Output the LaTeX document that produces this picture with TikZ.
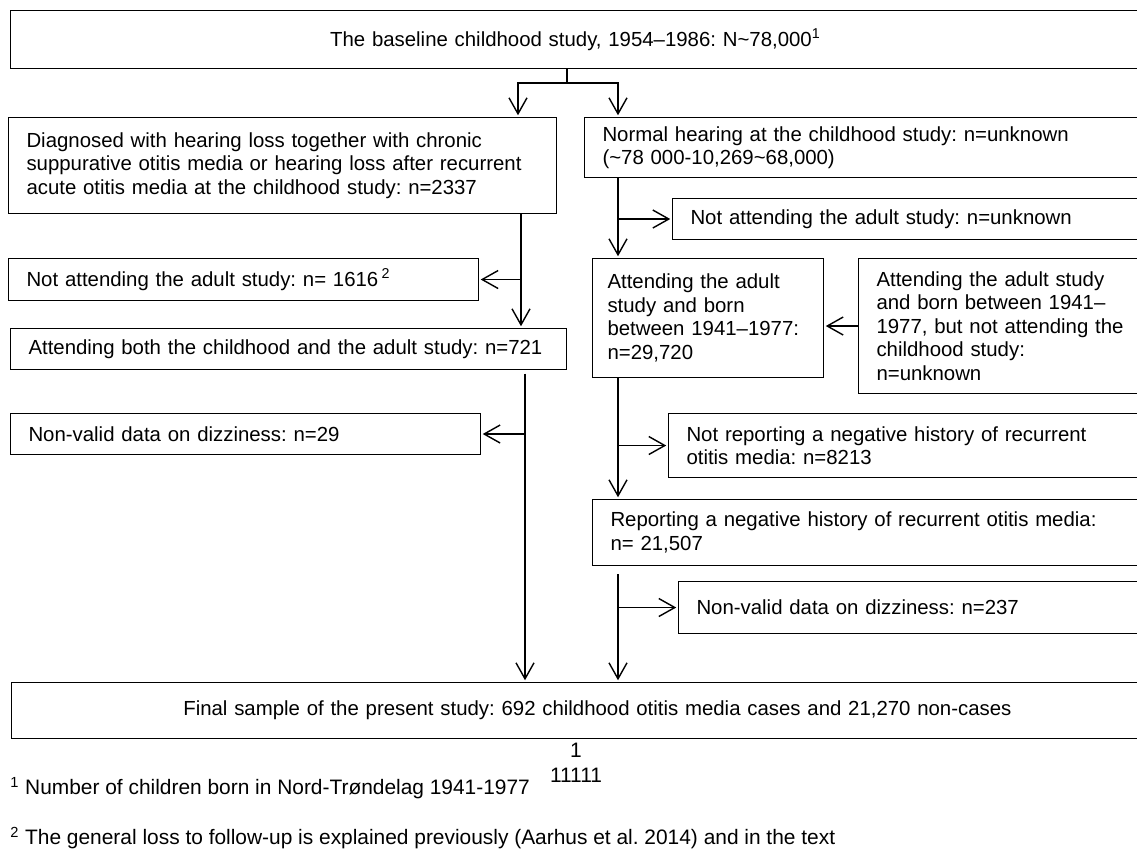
\documentclass[tikz,border=0pt]{standalone}
\usepackage{fontspec}
\setmainfont{Liberation Sans}
\usetikzlibrary{arrows.meta}
\frenchspacing

\begin{document}
\begin{tikzpicture}[x=0.02cm,y=-0.02cm,
  >={Straight Barb[length=3.2mm,width=3.6mm]},
  box/.style={draw,line width=0.6pt,anchor=north west,align=left,inner xsep=0.36cm,inner ysep=0pt,font=\fontsize{11.6pt}{13.4pt}\selectfont},
  flow/.style={->,line width=0.8pt,shorten >=1pt},
  note/.style={inner sep=0pt,font=\fontsize{11.9pt}{13.4pt}\selectfont}]
\useasboundingbox (0,0) rectangle (1137,849);
\node[box,align=center,text width=21.88cm,minimum height=1.16cm] (base) at (10,10) {The baseline childhood study, 1954--1986: N\textasciitilde78,000\textsuperscript{1}};
\node[box,text width=10.24cm,minimum height=1.92cm] (diag) at (8,117) {Diagnosed with hearing loss together with chronic\\suppurative otitis media or hearing loss after recurrent\\acute otitis media at the childhood study: n=2337};
\node[box,text width=8.68cm,minimum height=0.84cm] (lost) at (8,258) {Not attending the adult study: n= 1616\,\textsuperscript{2}};
\node[box,text width=10.4cm,minimum height=0.82cm] (both) at (10,328) {Attending both the childhood and the adult study: n=721};
\node[box,text width=8.68cm,minimum height=0.82cm] (badl) at (10,413) {Non-valid data on dizziness: n=29};
\node[box,text width=10.8cm,minimum height=1.2cm] (normal) at (584,117) {Normal hearing at the childhood study: n=unknown\\(\textasciitilde78 000-10,269\textasciitilde68,000)};
\node[box,text width=9.04cm,minimum height=0.82cm] (absent) at (672,198) {Not attending the adult study: n=unknown};
\node[box,inner xsep=0.3cm,text width=4.02cm,minimum height=2.38cm] (adult) at (592,258) {Attending the adult\\study and born\\between 1941--1977:\\n=29,720};
\node[box,text width=5.32cm,minimum height=2.7cm] (nochild) at (858,258) {Attending the adult study\\and born between 1941--\\1977, but not attending the\\childhood study:\\n=unknown};
\node[box,text width=9.12cm,minimum height=1.28cm] (notneg) at (668,413) {Not reporting a negative history of recurrent\\otitis media: n=8213};
\node[box,text width=10.64cm,minimum height=1.32cm] (neg) at (592,499) {Reporting a negative history of recurrent otitis media:\\n= 21,507};
\node[box,text width=8.92cm,minimum height=1.04cm] (badr) at (678,581) {Non-valid data on dizziness: n=237};
\node[box,align=center,text width=22.72cm,minimum height=1.12cm] (final) at (11,682) {Final sample of the present study: 692 childhood otitis media cases and 21,270 non-cases};
\node[note] (one) at (576,750) {1};
\node[note] (ones) at (576,775) {11111};
\node[note,anchor=west] (fnone) at (10,788) {\textsuperscript{1} Number of children born in Nord-Trøndelag 1941-1977};
\node[note,anchor=west] (fntwo) at (10,838) {\textsuperscript{2} The general loss to follow-up is explained previously (Aarhus et al. 2014) and in the text};
\coordinate (split) at (567,83);
\coordinate (lhead) at (518,83);
\coordinate (rhead) at (618,83);
\coordinate (lcol) at (521,0);
\coordinate (lcolb) at (525,0);
\coordinate (rcol) at (618,0);
\draw[line width=0.8pt] (base.south -| split) -- (split);
\draw[flow] (split) -- (lhead) -- (lhead |- diag.north);
\draw[flow] (split) -- (rhead) -- (rhead |- normal.north);
\draw[flow] (lcol |- diag.south) -- (lcol |- both.north);
\draw[flow] (lcol |- lost.east) -- (lost.east);
\draw[flow,shorten <=2pt] (lcolb |- both.south) -- (lcolb |- final.north);
\draw[flow] (lcolb |- badl.east) -- (badl.east);
\draw[flow] (rcol |- normal.south) -- (rcol |- adult.north);
\draw[flow] (rcol |- absent.west) -- (absent.west);
\draw[flow] (nochild.west) -- (adult.east |- nochild.west);
\draw[flow] (rcol |- adult.south) -- (rcol |- neg.north);
\draw[flow] (rcol |- notneg.west) -- (notneg.west);
\draw[flow,shorten <=0.16cm] (rcol |- neg.south) -- (rcol |- final.north);
\draw[flow] (rcol |- badr.west) -- (badr.west);
\end{tikzpicture}
\end{document}
